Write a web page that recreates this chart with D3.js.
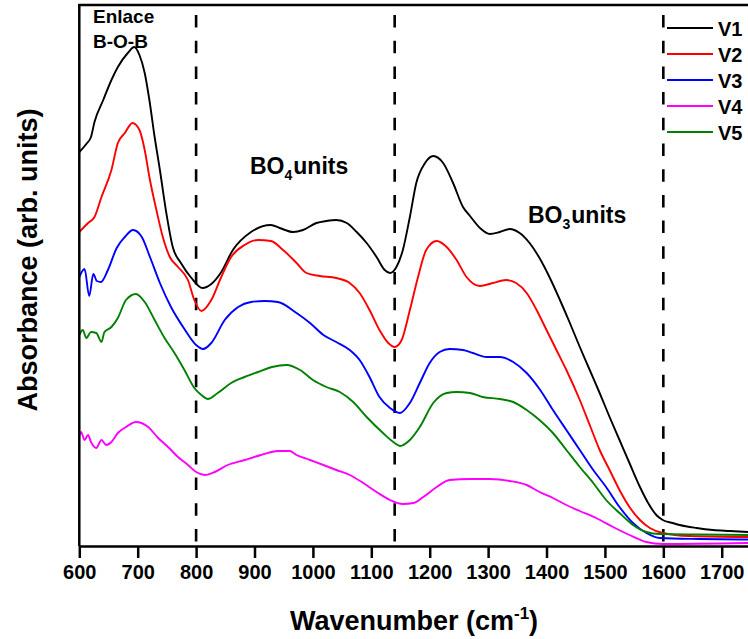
<!DOCTYPE html>
<html>
<head>
<meta charset="utf-8">
<script src="https://cdn.jsdelivr.net/npm/d3@7/dist/d3.min.js"></script>
<style>
  html, body { margin: 0; padding: 0; background: #fff; }
  svg { display: block; font-family: Arial, "Liberation Sans", sans-serif; }
</style>
</head>
<body>
<svg id="chart" width="748" height="639"></svg>
<script>
// FTIR absorbance spectra, wavenumber (cm-1) vs absorbance (arbitrary units, offset per sample)
const v1 = [[600,3.94],[612,4.02],[620,4.09],[626,4.24],[641,4.46],[655,4.66],[666,4.79],[683,4.93],[694,4.99],[703,4.91],[712,4.73],[720,4.46],[729,4.09],[738,3.76],[749,3.33],[760,2.99],[774,2.83],[792,2.68],[811,2.58],[826,2.62],[842,2.73],[863,2.96],[894,3.14],[928,3.21],[943,3.18],[966,3.14],[983,3.16],[1006,3.23],[1023,3.25],[1040,3.26],[1058,3.23],[1075,3.14],[1092,3.03],[1109,2.89],[1123,2.76],[1132,2.73],[1143,2.79],[1154,2.96],[1166,3.29],[1177,3.63],[1192,3.83],[1206,3.90],[1223,3.83],[1240,3.63],[1257,3.39],[1269,3.30],[1286,3.18],[1303,3.12],[1320,3.14],[1337,3.17],[1354,3.13],[1371,3.03],[1388,2.88],[1405,2.69],[1423,2.46],[1440,2.23],[1457,1.99],[1474,1.76],[1491,1.53],[1508,1.29],[1525,1.06],[1542,0.83],[1560,0.59],[1574,0.43],[1588,0.31],[1599,0.26],[1616,0.23],[1628,0.21],[1657,0.18],[1685,0.16],[1714,0.15],[1745,0.14]];

const v2 = [[600,3.14],[615,3.23],[626,3.29],[638,3.49],[655,3.76],[666,4.03],[678,4.13],[691,4.23],[703,4.16],[712,3.96],[720,3.69],[732,3.36],[743,3.09],[755,2.89],[769,2.79],[786,2.66],[797,2.46],[809,2.35],[826,2.46],[843,2.69],[860,2.89],[883,3.01],[906,3.06],[928,3.05],[949,2.96],[972,2.83],[989,2.73],[1012,2.70],[1040,2.68],[1063,2.63],[1080,2.53],[1097,2.36],[1114,2.16],[1129,2.03],[1140,1.99],[1152,2.06],[1166,2.36],[1180,2.69],[1194,2.96],[1212,3.05],[1229,2.99],[1246,2.86],[1263,2.69],[1286,2.60],[1308,2.63],[1331,2.66],[1348,2.63],[1366,2.53],[1383,2.36],[1400,2.16],[1417,1.96],[1434,1.76],[1457,1.46],[1474,1.21],[1491,0.96],[1508,0.76],[1525,0.56],[1542,0.39],[1560,0.26],[1577,0.18],[1599,0.13],[1645,0.10],[1745,0.09]];

const v3 = [[600,2.69],[609,2.77],[617,2.50],[624,2.72],[630,2.65],[637,2.64],[649,2.76],[664,2.98],[678,3.09],[692,3.16],[707,3.09],[721,2.89],[738,2.63],[757,2.39],[780,2.17],[800,2.01],[812,1.97],[826,2.03],[849,2.26],[872,2.39],[894,2.44],[917,2.45],[940,2.44],[972,2.33],[995,2.23],[1018,2.11],[1040,2.04],[1063,1.96],[1080,1.86],[1097,1.69],[1114,1.49],[1132,1.38],[1149,1.33],[1166,1.43],[1183,1.63],[1200,1.83],[1217,1.94],[1234,1.97],[1257,1.96],[1274,1.93],[1297,1.89],[1320,1.89],[1343,1.84],[1366,1.73],[1388,1.57],[1411,1.36],[1434,1.16],[1457,0.96],[1480,0.76],[1502,0.59],[1525,0.39],[1548,0.23],[1571,0.13],[1594,0.08],[1662,0.07],[1745,0.065]];

const v4 = [[600,1.10],[603,1.14],[609,1.06],[615,1.11],[620,1.04],[629,0.98],[638,1.06],[646,1.01],[655,1.04],[666,1.13],[680,1.19],[697,1.24],[718,1.19],[735,1.08],[752,0.99],[769,0.89],[786,0.81],[800,0.74],[815,0.71],[832,0.74],[854,0.81],[883,0.86],[911,0.91],[940,0.95],[960,0.95],[972,0.91],[995,0.86],[1018,0.81],[1040,0.76],[1063,0.71],[1086,0.63],[1109,0.54],[1132,0.46],[1154,0.42],[1172,0.43],[1189,0.49],[1212,0.59],[1234,0.66],[1269,0.67],[1303,0.67],[1337,0.65],[1366,0.61],[1388,0.54],[1411,0.48],[1434,0.41],[1457,0.35],[1485,0.28],[1514,0.19],[1542,0.11],[1571,0.04],[1599,0.02],[1745,0.03]];

const v5 = [[600,2.11],[606,2.16],[612,2.08],[620,2.14],[629,2.13],[638,2.04],[643,2.14],[655,2.19],[666,2.28],[680,2.46],[697,2.52],[712,2.44],[729,2.26],[746,2.08],[763,1.93],[780,1.76],[797,1.58],[809,1.51],[820,1.47],[837,1.53],[860,1.63],[883,1.69],[906,1.74],[930,1.79],[955,1.81],[978,1.76],[1000,1.66],[1023,1.59],[1046,1.54],[1069,1.44],[1092,1.29],[1120,1.13],[1140,1.03],[1149,1.00],[1166,1.06],[1183,1.19],[1206,1.43],[1229,1.53],[1246,1.54],[1269,1.53],[1291,1.49],[1320,1.47],[1343,1.44],[1366,1.36],[1388,1.26],[1411,1.13],[1434,0.96],[1457,0.79],[1480,0.63],[1502,0.46],[1525,0.33],[1548,0.21],[1571,0.14],[1594,0.12],[1662,0.115],[1745,0.11]];

const seriesNames = ["V1", "V2", "V3", "V4", "V5"];
const seriesColors = ["#000000", "#ff0000", "#0000ff", "#ff00ff", "#008000"];
const seriesData = [v1, v2, v3, v4, v5];

const xTicks = [600, 700, 800, 900, 1000, 1100, 1200, 1300, 1400, 1500, 1600, 1700];
const markerLines = [800, 1140, 1600];

const svg = d3.select("#chart");
const W = 748, H = 639;
const plotL = 79.3, plotR = 748, plotT = 5, plotB = 546;

svg.append("rect").attr("width", W).attr("height", H).attr("fill", "#fff");

const x = d3.scaleLinear().domain([600, 1745]).range([plotL, plotR]);
const y = d3.scaleLinear().domain([0, 5.41]).range([plotB, plotT]);

svg.append("defs").append("clipPath").attr("id", "plot")
  .append("rect").attr("x", plotL).attr("y", plotT).attr("width", plotR - plotL).attr("height", plotB - plotT);

// dashed reference lines
svg.append("g").selectAll("line").data(markerLines).join("line")
  .attr("x1", d => x(d)).attr("x2", d => x(d))
  .attr("y1", 15).attr("y2", plotB)
  .attr("stroke", "#000").attr("stroke-width", 2.6)
  .attr("stroke-dasharray", "12.5,13.2");

// spectra
const line = d3.line().x(d => x(d[0])).y(d => y(d[1])).curve(d3.curveMonotoneX);
svg.append("g").attr("clip-path", "url(#plot)")
  .selectAll("path").data(seriesData).join("path")
  .attr("d", d => line(d))
  .attr("fill", "none")
  .attr("stroke", (d, i) => seriesColors[i])
  .attr("stroke-width", 1.9)
  .attr("stroke-linejoin", "round");

// frame: left and top
svg.append("line").attr("x1", plotL).attr("x2", plotL).attr("y1", plotT - 1).attr("y2", plotB)
  .attr("stroke", "#000").attr("stroke-width", 2.5);
svg.append("line").attr("x1", plotL - 1).attr("x2", plotR).attr("y1", plotT).attr("y2", plotT)
  .attr("stroke", "#000").attr("stroke-width", 2.3);

// x axis
const xAxis = d3.axisBottom(x).tickValues(xTicks).tickFormat(d3.format("d"))
  .tickSize(12).tickSizeOuter(0).tickPadding(7);
const gx = svg.append("g").attr("transform", `translate(0,${plotB})`).call(xAxis);
gx.select(".domain").attr("stroke-width", 2.5).attr("stroke", "#000");
gx.selectAll(".tick line").attr("stroke-width", 2.5).attr("stroke", "#000");
gx.selectAll(".tick text").attr("font-size", 20).attr("font-weight", "bold")
  .attr("font-family", "Arial, 'Liberation Sans', sans-serif").attr("fill", "#000");

// axis titles
const xt = svg.append("text").attr("x", 414).attr("y", 630).attr("text-anchor", "middle")
  .attr("font-size", 27).attr("font-weight", "bold").attr("fill", "#000");
xt.append("tspan").text("Wavenumber (cm");
xt.append("tspan").attr("font-size", 17).attr("dy", -11).text("-1");
xt.append("tspan").attr("dy", 11).text(")");

svg.append("text").attr("transform", "translate(37,260) rotate(-90)")
  .attr("text-anchor", "middle").attr("font-size", 27).attr("font-weight", "bold")
  .attr("fill", "#000").text("Absorbance (arb. units)");

// legend
const lg = svg.append("g");
seriesNames.forEach((n, i) => {
  const yy = 28 + i * 26;
  lg.append("line").attr("x1", 667).attr("x2", 713).attr("y1", yy).attr("y2", yy)
    .attr("stroke", seriesColors[i]).attr("stroke-width", 2);
  lg.append("text").attr("x", 718).attr("y", yy + 7.5).attr("font-size", 20)
    .attr("font-weight", "bold").attr("fill", "#000").text(n);
});

// band annotations
svg.append("text").attr("x", 93).attr("y", 23).attr("font-size", 19).attr("font-weight", "bold").text("Enlace");
svg.append("text").attr("x", 93).attr("y", 48).attr("font-size", 19).attr("font-weight", "bold").text("B-O-B");

const bo4 = svg.append("text").attr("x", 250).attr("y", 174).attr("font-size", 23).attr("font-weight", "bold");
bo4.append("tspan").text("BO");
bo4.append("tspan").attr("font-size", 14).attr("dy", 6).text("4");
bo4.append("tspan").attr("dy", -6).attr("dx", 1).text("units");

const bo3 = svg.append("text").attr("x", 528).attr("y", 223).attr("font-size", 23).attr("font-weight", "bold");
bo3.append("tspan").text("BO");
bo3.append("tspan").attr("font-size", 14).attr("dy", 6).text("3");
bo3.append("tspan").attr("dy", -6).attr("dx", 1).text("units");
</script>
</body>
</html>
